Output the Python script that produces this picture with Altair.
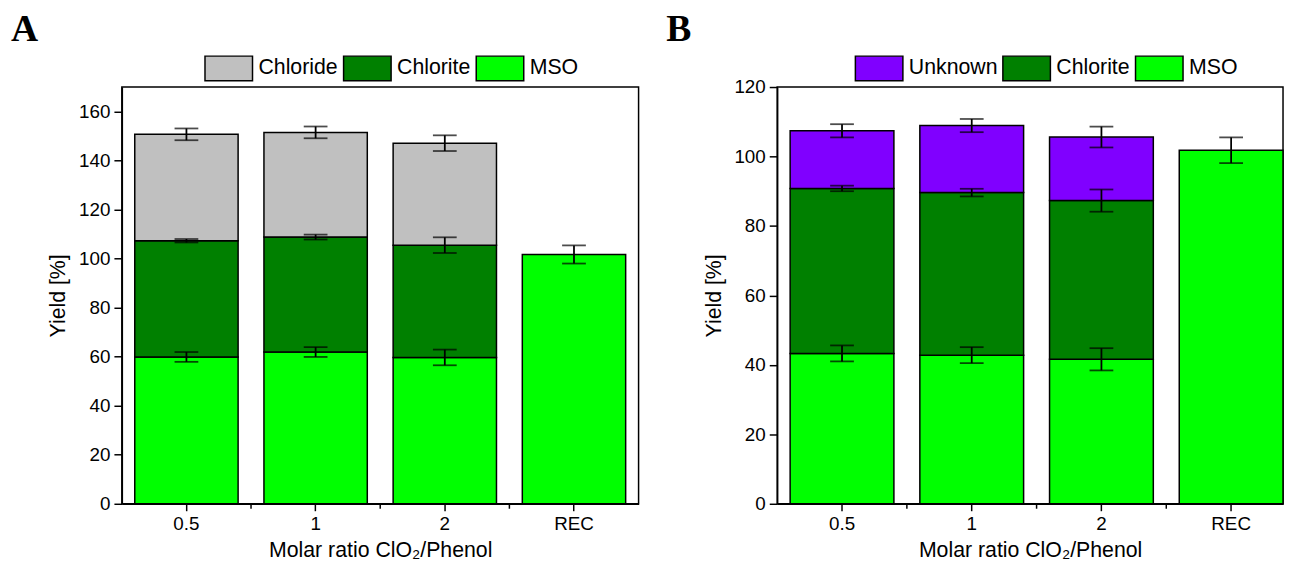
import altair as alt
import pandas as pd

cats = ["0.5", "1", "2", "REC"]

# Panel A (segment values, %)
a_mso = [59.9, 61.9, 59.7, 101.7]
a_mso_err = [2.0, 2.0, 3.2, 3.7]
a_chlorite = [47.4, 46.9, 45.8, 0.0]
a_chlorite_err = [0.7, 1.0, 3.2, 0.0]
a_chloride = [43.4, 42.7, 41.6, 0.0]
a_chloride_err = [2.4, 2.4, 3.2, 0.0]

# Panel B (segment values, %)
b_mso = [43.3, 42.8, 41.6, 101.8]
b_mso_err = [2.3, 2.3, 3.2, 3.7]
b_chlorite = [47.5, 46.8, 45.7, 0.0]
b_chlorite_err = [0.8, 1.1, 3.2, 0.0]
b_unknown = [16.6, 19.3, 18.3, 0.0]
b_unknown_err = [1.9, 1.9, 3.0, 0.0]

minor_x = ["0.5", "1", "2"]

FONT = "Liberation Sans"
SYMBOL = "M-1,-0.52H1V0.52H-1Z"
P_INNER = 0.2


def build(series):
    rows = []
    for i, c in enumerate(cats):
        bottom = 0.0
        for rank, (name, vals, errs) in enumerate(series):
            v = vals[i]
            if v <= 0:
                continue
            top = bottom + v
            rows.append({"cat": c, "comp": name, "rank": rank, "bottom": bottom,
                         "top": top, "lo": top - errs[i], "hi": top + errs[i]})
            bottom = top
    return pd.DataFrame(rows)


def panel(df, legend_order, colors, ymax, width, height, label, legend_x, legend_y,
          p_outer, align):
    step = width / (len(cats) - P_INNER + 2 * p_outer)
    xscale = alt.Scale(domain=cats, paddingInner=P_INNER, paddingOuter=p_outer, align=align)
    xaxis = alt.Axis(title="Molar ratio ClO₂/Phenol", labelAngle=0, tickSize=7,
                     labelPadding=4, titlePadding=6)
    yaxis = alt.Axis(title="Yield [%]", values=list(range(0, ymax + 1, 10)),
                     labelExpr="datum.value % 20 === 0 ? datum.label : ''",
                     tickSize={"condition": {"test": "datum.value % 20 !== 0", "value": 5}, "value": 8},
                     labelPadding=4, titlePadding=9)
    x = alt.X("cat:N", scale=xscale, axis=xaxis, sort=cats)
    y = alt.Y("top:Q", scale=alt.Scale(domain=[0, ymax], nice=False, zero=True), axis=yaxis)

    base = alt.Chart(df)
    bars = base.mark_bar(stroke="black", strokeWidth=1.5, opacity=1).encode(
        x=x,
        y=y,
        y2="bottom:Q",
        color=alt.Color("comp:N", scale=alt.Scale(domain=legend_order, range=colors),
                        legend=alt.Legend(title=None, orient="none", legendX=legend_x,
                                          legendY=legend_y, direction="horizontal",
                                          symbolType=SYMBOL, symbolSize=2304,
                                          symbolStrokeColor="black", symbolStrokeWidth=1.5,
                                          labelFont=FONT, labelFontSize=21.5, labelColor="black",
                                          labelOffset=5, columnPadding=2)),
    )
    xs = alt.X("cat:N", scale=xscale, sort=cats)
    rule = base.mark_rule(color="black", strokeWidth=1.8).encode(x=xs, y="lo:Q", y2="hi:Q")
    cap_lo = base.mark_tick(color="black", thickness=1.8, size=24, orient="horizontal").encode(
        x=xs, y="lo:Q")
    cap_hi = base.mark_tick(color="black", thickness=1.8, size=24, orient="horizontal").encode(
        x=xs, y="hi:Q")
    minor = alt.Chart(pd.DataFrame({"cat": minor_x})).mark_rule(
        color="black", strokeWidth=1.5, xOffset=step / 2).encode(
        x=xs, y=alt.value(height), y2=alt.value(height + 5))
    lab = alt.Chart(pd.DataFrame({"t": [label]})).mark_text(
        font="Liberation Serif", fontWeight="bold", fontSize=38, align="left",
        baseline="top", color="black").encode(
        text="t:N", x=alt.value(-112), y=alt.value(-76))
    return alt.layer(bars, rule, cap_lo, cap_hi, minor, lab).properties(width=width, height=height)


df_a = build([("MSO", a_mso, a_mso_err), ("Chlorite", a_chlorite, a_chlorite_err),
              ("Chloride", a_chloride, a_chloride_err)])
df_b = build([("MSO", b_mso, b_mso_err), ("Chlorite", b_chlorite, b_chlorite_err),
              ("Unknown", b_unknown, b_unknown_err)])

chart_a = panel(df_a, ["Chloride", "Chlorite", "MSO"], ["#C0C0C0", "#008000", "#00FF00"],
                170, 522, 421, "A", 83, -44, 0.1, 0.5)
chart_b = panel(df_b, ["Unknown", "Chlorite", "MSO"], ["#8000FF", "#008000", "#00FF00"],
                120, 511, 421, "B", 78, -44, 0.05, 1)

chart = alt.hconcat(chart_a, chart_b, spacing=26).resolve_scale(color="independent").configure(
    padding={"left": 2, "top": 0, "right": 0, "bottom": 0}
).configure_view(stroke="black", strokeWidth=1.5).configure_axis(
    labelFont=FONT, labelFontSize=19, labelColor="black",
    titleFont=FONT, titleFontSize=21.5, titleFontWeight="normal", titleColor="black",
    domainColor="black", domainWidth=1.5, tickColor="black", tickWidth=1.5, grid=False
)

chart.save("out.html", embed_options={"renderer": "svg", "actions": False})
